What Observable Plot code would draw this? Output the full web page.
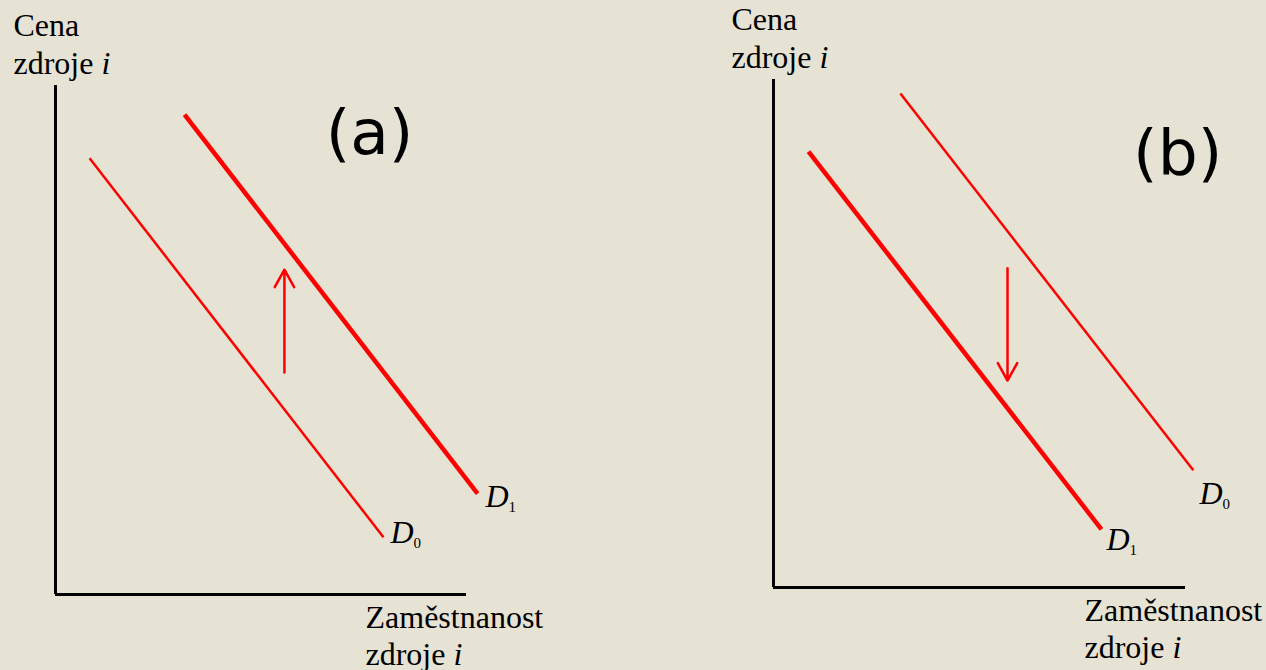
<!DOCTYPE html>
<html>
<head>
<meta charset="utf-8">
<script src="https://cdn.jsdelivr.net/npm/d3@7"></script>
<script src="https://cdn.jsdelivr.net/npm/@observablehq/plot@0.6"></script>
<style>
  html, body { margin: 0; padding: 0; background: #E6E2D4; }
  #chart { display: flex; width: 1266px; height: 670px; overflow: hidden; }
  #chart svg { flex: none; }
</style>
</head>
<body>
<div id="chart"></div>
<script>
// Demand for resource i: (a) the curve shifts up from D0 to D1, (b) it shifts down.
const panelNames = ["(a)", "(b)"];
const yTitle = "Cena\nzdroje i";
const xTitle = "Zaměstnanost\nzdroje i";

// Demand curves as straight segments: employment q, price p at both ends
const demandA = [
  { curve: "D0", q1: 0.83, p1: 8.69, q2: 7.98, p2: 1.14 },
  { curve: "D1", q1: 3.14, p1: 9.56, q2: 10.27, p2: 2.01 }
];
const demandB = [
  { curve: "D0", q1: 3.08, p1: 9.86, q2: 10.19, p2: 2.34 },
  { curve: "D1", q1: 0.85, p1: 8.70, q2: 7.96, p2: 1.16 }
];

// Curve names placed just past the lower end of each curve
const curveLabelsA = [
  { curve: "D0", q: 8.15, p: 1.08 },
  { curve: "D1", q: 10.46, p: 1.81 }
];
const curveLabelsB = [
  { curve: "D0", q: 10.34, p: 1.72 },
  { curve: "D1", q: 8.08, p: 0.80 }
];

// Direction of the shift
const shiftA = [{ q: 5.57, from: 4.42, to: 6.47 }];
const shiftB = [{ q: 5.68, from: 6.37, to: 4.13 }];

// Panel name positions
const panelTagA = [{ name: panelNames[0], q: 7.64, p: 8.78 }];
const panelTagB = [{ name: panelNames[1], q: 9.81, p: 8.26 }];

const RED = "#FF0000";
const SERIF = "Liberation Serif, Times New Roman, serif";

function panel({ demand, labels, shift, tag, xRange, yRange }) {
  const svg = Plot.plot({
    width: 633,
    height: 670,
    margin: 0,
    style: { background: "transparent", overflow: "visible" },
    x: { domain: [0, 10], range: xRange, axis: null },
    y: { domain: [0, 10], range: yRange, axis: null },
    marks: [
      // axes
      Plot.ruleX([0], { y1: 0, y2: 10, stroke: "#000", strokeWidth: 3, insetBottom: 7 }),
      Plot.ruleY([0], { x1: 0, x2: 10, stroke: "#000", strokeWidth: 3 }),
      // demand curves: the new curve D1 is drawn heavier
      Plot.link(demand, {
        x1: "q1", y1: "p1", x2: "q2", y2: "p2",
        stroke: RED,
        strokeWidth: d => d.curve === "D1" ? 4.5 : 2.5,
        strokeLinecap: "butt"
      }),
      // shift arrow
      Plot.arrow(shift, {
        x: "q", y1: "from", y2: "to",
        stroke: RED, strokeWidth: 2.5, headLength: 12, headAngle: 58
      }),
      // curve names
      Plot.text(labels, {
        x: "q", y: "p", text: "curve", dy: 3,
        textAnchor: "start", lineAnchor: "bottom",
        fontSize: 32, fontFamily: SERIF, fill: "#000"
      }),
      // axis titles
      Plot.text([yTitle], {
        x: 0, y: 10, text: d => d, dx: -42, dy: -19,
        textAnchor: "start", lineAnchor: "bottom", lineHeight: 1.17,
        fontSize: 32, fontFamily: SERIF, fill: "#000"
      }),
      Plot.text([xTitle], {
        x: 10, y: 0, text: d => d, dx: -101, dy: 70,
        textAnchor: "start", lineAnchor: "bottom", lineHeight: 1.13,
        fontSize: 32, fontFamily: SERIF, fill: "#000"
      }),
      // panel name
      Plot.text(tag, {
        x: "q", y: "p", text: "name",
        textAnchor: "middle", lineAnchor: "bottom",
        fontSize: 63, fontFamily: "DejaVu Sans, Verdana, sans-serif", fill: "#000"
      })
    ]
  });
  typeset(svg);
  return svg;
}

// Italic variable names and subscripted curve indices
function typeset(svg) {
  const NS = "http://www.w3.org/2000/svg";
  svg.querySelectorAll("text, tspan").forEach(node => {
    if (node.children.length) return;
    const s = node.textContent;
    let m;
    if ((m = s.match(/^(.*) i$/))) {
      node.textContent = m[1] + " ";
      const t = document.createElementNS(NS, "tspan");
      t.setAttribute("font-style", "italic");
      t.textContent = "i";
      node.appendChild(t);
    } else if ((m = s.match(/^D(\d)$/))) {
      node.textContent = "";
      const d = document.createElementNS(NS, "tspan");
      d.setAttribute("font-style", "italic");
      d.textContent = "D";
      const sub = document.createElementNS(NS, "tspan");
      sub.setAttribute("font-size", "15");
      sub.setAttribute("dy", "5");
      sub.textContent = m[1];
      node.appendChild(d);
      node.appendChild(sub);
    }
  });
}

const chart = document.getElementById("chart");
chart.appendChild(panel({
  demand: demandA, labels: curveLabelsA, shift: shiftA, tag: panelTagA,
  xRange: [55, 466], yRange: [594, 92]
}));
chart.appendChild(panel({
  demand: demandB, labels: curveLabelsB, shift: shiftB, tag: panelTagB,
  xRange: [140, 552], yRange: [587, 86]
}));
</script>
</body>
</html>
